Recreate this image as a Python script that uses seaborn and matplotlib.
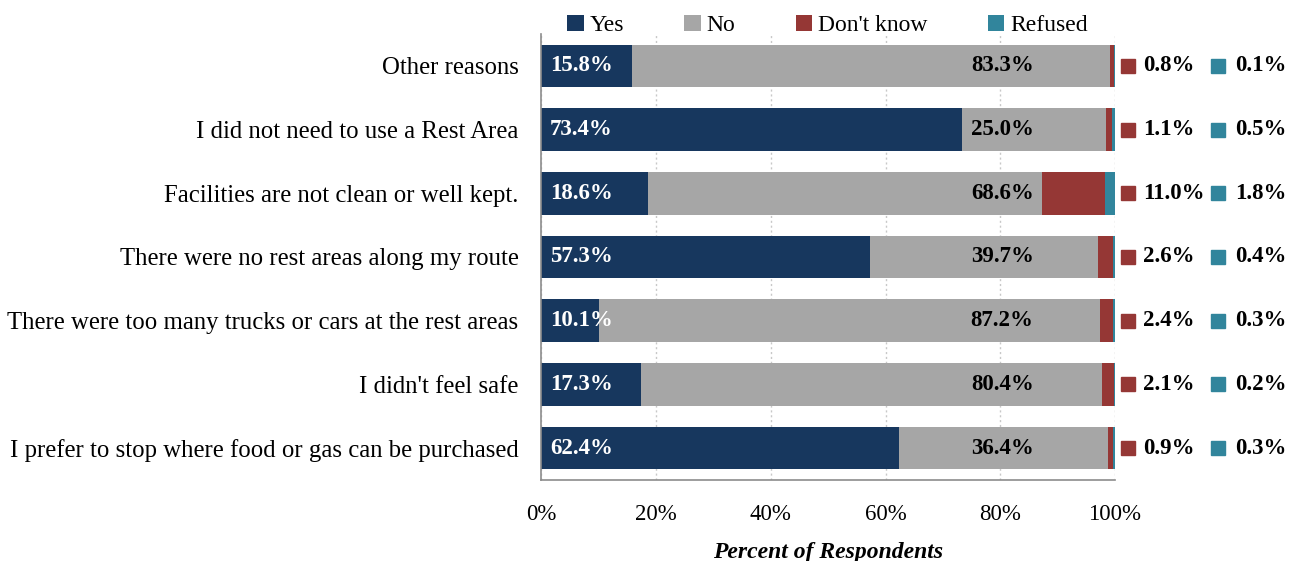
import numpy as np
import pandas as pd
import matplotlib
matplotlib.use("Agg")
import matplotlib.pyplot as plt
from matplotlib.patches import Patch
import seaborn as sns

reasons = [
    "Other reasons",
    "I did not need to use a Rest Area",
    "Facilities are not clean or well kept.",
    "There were no rest areas along my route",
    "There were too many trucks or cars at the rest areas",
    "I didn't feel safe",
    "I prefer to stop where food or gas can be purchased",
]
yes = [15.8, 73.4, 18.6, 57.3, 10.1, 17.3, 62.4]
no = [83.3, 25.0, 68.6, 39.7, 87.2, 80.4, 36.4]
dont_know = [0.8, 1.1, 11.0, 2.6, 2.4, 2.1, 0.9]
refused = [0.1, 0.5, 1.8, 0.4, 0.3, 0.2, 0.3]

series_names = ["Yes", "No", "Don't know", "Refused"]
colors = ["#17375E", "#A6A6A6", "#953735", "#31859C"]

sns.set_theme(style="white")
plt.rcParams["font.family"] = ["Liberation Serif", "DejaVu Serif"]
for key in ["text.color", "axes.labelcolor", "xtick.color", "ytick.color"]:
    plt.rcParams[key] = "black"

CAT_FS = 17.8
VAL_FS = 16.5
TICK_FS = 16.5
LEG_FS = 17

df = pd.DataFrame({"reason": reasons, "Yes": yes, "No": no,
                   "Don't know": dont_know, "Refused": refused})
cum = df[series_names].cumsum(axis=1)

fig = plt.figure(figsize=(12.97, 5.61), dpi=100)
ax = fig.add_axes([0.4175, 0.1444, 0.4422, 0.795])

# stacked bars: draw cumulative totals from the outermost layer inwards
for name, color in reversed(list(zip(series_names, colors))):
    sns.barplot(x=cum[name], y=df["reason"], orient="h", color=color,
                width=0.67, ax=ax, saturation=1, linewidth=0)

ax.set_xlim(0, 100)
ax.set_ylim(6.5, -0.5)
ax.set_xticks(np.arange(0, 101, 20))
ax.set_xticklabels([f"{v}%" for v in range(0, 101, 20)], fontsize=TICK_FS)
ax.xaxis.grid(True, linestyle=(0, (1.5, 2)), color="#c8c8c8", linewidth=1)
ax.set_axisbelow(True)
ax.set_ylabel("")
ax.set_xlabel("Percent of Respondents", fontsize=17, fontweight="bold",
              fontstyle="italic", labelpad=12)

for side in ["top", "right"]:
    ax.spines[side].set_visible(False)
for side in ["left", "bottom"]:
    ax.spines[side].set_color("#8c8c8c")
    ax.spines[side].set_linewidth(1.2)

ax.set_yticks(range(len(reasons)))
ax.set_yticklabels(reasons, fontsize=CAT_FS)
ax.tick_params(axis="y", length=0, pad=16.5)
ax.set_yticks(np.arange(-0.5, len(reasons), 1.0), minor=True)
ax.tick_params(axis="y", which="minor", length=6, color="#8c8c8c", width=1.2, direction="out")
ax.tick_params(axis="x", length=8, color="#8c8c8c", width=1.2, direction="out", pad=9.5)

# value labels: Yes inside the bar start, No near the end of the gray
# segment, Don't know / Refused listed to the right of the axes
for i in range(len(reasons)):
    ax.text(1.5, i, f"{yes[i]:.1f}%", color="white", fontsize=VAL_FS,
            fontweight="bold", va="center", ha="left")
    ax.text(85.8, i, f"{no[i]:.1f}%", color="black", fontsize=VAL_FS,
            fontweight="bold", va="center", ha="right")
    ax.plot([102.3], [i], marker="s", markersize=10, color=colors[2],
            clip_on=False, linestyle="none")
    ax.text(104.9, i, f"{dont_know[i]:.1f}%", color="black", fontsize=VAL_FS,
            fontweight="bold", va="center", ha="left", clip_on=False)
    ax.plot([118.0], [i], marker="s", markersize=10, color=colors[3],
            clip_on=False, linestyle="none")
    ax.text(121.0, i, f"{refused[i]:.1f}%", color="black", fontsize=VAL_FS,
            fontweight="bold", va="center", ha="left", clip_on=False)

handles = [Patch(facecolor=c, edgecolor="none") for c in colors]
fig.legend(handles, series_names, loc="center", bbox_to_anchor=(0.638, 0.9545),
           ncol=4, frameon=False, fontsize=LEG_FS, handlelength=0.7, handleheight=0.7,
           handletextpad=0.25, columnspacing=2.55)

fig.savefig("out.png", dpi=100)
